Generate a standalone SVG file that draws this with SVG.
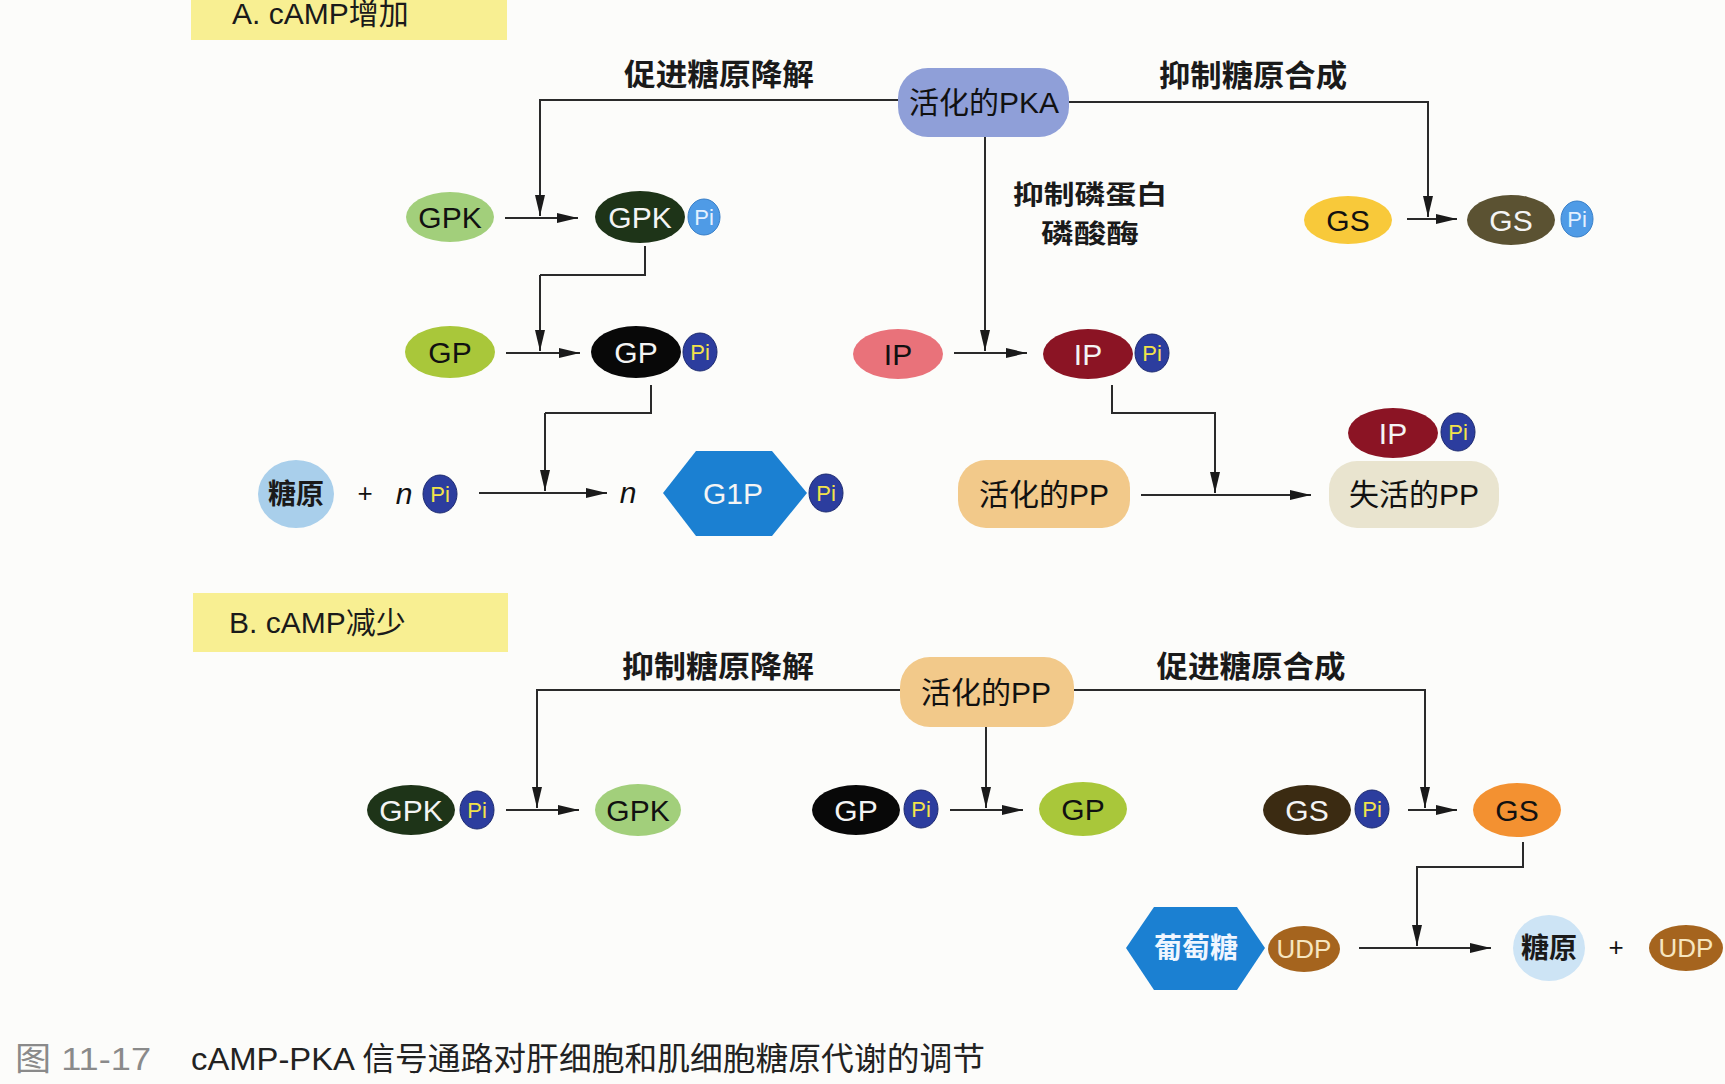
<svg xmlns="http://www.w3.org/2000/svg" width="1725" height="1084" viewBox="0 0 1725 1084">
<defs>
<style>
.lbl{font-family:"Noto Sans CJK SC","Liberation Serif",sans-serif;font-weight:bold;font-size:30px;fill:#1a1a1a;text-anchor:middle}
.nt{font-family:"Liberation Sans","Noto Sans CJK SC",sans-serif;font-size:30px;text-anchor:middle}
.dk{fill:#111}
.wt{fill:#f4f4f4}
.pit{font-family:"Liberation Sans",sans-serif;font-size:22px;text-anchor:middle}
.pid{fill:#2c3d9e;stroke:#1c2a70;stroke-width:1}
.pil{fill:#4f9be6;stroke:#3a80c8;stroke-width:1}
.pidt{fill:#f2e24a}
.pilt{fill:#e4f0ff}
.conn{stroke:#2a2a2a;stroke-width:2;fill:none}
.arr{marker-end:url(#ah)}
.sec{fill:#f8ef92}
.sect{font-family:"Liberation Sans","Noto Sans CJK SC",sans-serif;font-size:30px;fill:#1a1a1a}
</style>
<marker id="ah" markerUnits="userSpaceOnUse" markerWidth="22" markerHeight="12" refX="21" refY="6" orient="auto">
<path d="M0,1 L21,6 L0,11 z" fill="#1a1a1a"/>
</marker>
</defs>
<rect x="0" y="0" width="1725" height="1084" fill="#fcfcfa"/>

<g id="secA"><rect class="sec" x="191" y="-18" width="316" height="58"/><text class="sect" x="232" y="24">A. cAMP增加</text></g>
<g id="secB"><rect class="sec" x="193" y="593" width="315" height="59"/><text class="sect" x="229" y="633">B. cAMP减少</text></g>

<g id="connectors">
<path class="conn arr" d="M898,100 H540 V216"/>
<path class="conn arr" d="M1069,102 H1428 V217"/>
<path class="conn arr" d="M985,137 V351"/>
<path class="conn arr" d="M505,218 H578"/>
<path class="conn" d="M645,246 V275 H540"/>
<path class="conn arr" d="M540,275 V351"/>
<path class="conn arr" d="M506,353 H580"/>
<path class="conn" d="M651,385 V413 H545"/>
<path class="conn arr" d="M545,413 V491"/>
<path class="conn arr" d="M479,493 H607"/>
<path class="conn arr" d="M954,353 H1027"/>
<path class="conn arr" d="M1112,385 V413 H1215 V493"/>
<path class="conn arr" d="M1141,495 H1311"/>
<path class="conn arr" d="M1407,219 H1457"/>
<path class="conn arr" d="M900,690 H537 V808"/>
<path class="conn arr" d="M1074,690 H1425 V808"/>
<path class="conn arr" d="M986,727 V808"/>
<path class="conn arr" d="M506,810 H579"/>
<path class="conn arr" d="M950,810 H1023"/>
<path class="conn arr" d="M1408,810 H1457"/>
<path class="conn arr" d="M1523,842 V867 H1417 V946"/>
<path class="conn arr" d="M1359,948 H1491"/>
</g>

<g id="lbl-promote-deg"><text class="lbl" x="719" y="85" textLength="190" lengthAdjust="spacingAndGlyphs">促进糖原降解</text></g>
<g id="lbl-inhibit-syn"><text class="lbl" x="1253" y="86" textLength="188" lengthAdjust="spacingAndGlyphs">抑制糖原合成</text></g>
<g id="lbl-inhibit-pp"><text class="lbl" x="1090" y="204" style="font-size:26px" textLength="154" lengthAdjust="spacingAndGlyphs">抑制磷蛋白</text><text class="lbl" x="1090" y="243" style="font-size:26px" textLength="98" lengthAdjust="spacingAndGlyphs">磷酸酶</text></g>
<g id="lbl-inhibit-deg"><text class="lbl" x="718" y="677" textLength="192" lengthAdjust="spacingAndGlyphs">抑制糖原降解</text></g>
<g id="lbl-promote-syn"><text class="lbl" x="1251" y="677" textLength="189" lengthAdjust="spacingAndGlyphs">促进糖原合成</text></g>

<g id="pkaA"><rect x="898" y="68" width="171" height="69" rx="30" fill="#8f9fd8"/><text class="nt dk" x="984" y="113">活化的PKA</text></g>
<g id="gpkA1"><ellipse cx="450" cy="217" rx="44" ry="25" fill="#a2cf7b"/><text class="nt dk" x="450" y="228">GPK</text></g>
<g id="gpkA2"><ellipse cx="640" cy="217" rx="45" ry="26" fill="#1e3418"/><text class="nt wt" x="640" y="228">GPK</text><ellipse class="pil" cx="704" cy="217" rx="16" ry="18"/><text class="pit pilt" x="704" y="225">Pi</text></g>
<g id="gsA1"><ellipse cx="1348" cy="220" rx="44" ry="24" fill="#f8c93a"/><text class="nt dk" x="1348" y="231">GS</text></g>
<g id="gsA2"><ellipse cx="1511" cy="220" rx="44" ry="25" fill="#5b5232"/><text class="nt wt" x="1511" y="231">GS</text><ellipse class="pil" cx="1577" cy="219" rx="16" ry="18"/><text class="pit pilt" x="1577" y="227">Pi</text></g>
<g id="gpA1"><ellipse cx="450" cy="352" rx="45" ry="26" fill="#a9c73a"/><text class="nt dk" x="450" y="363">GP</text></g>
<g id="gpA2"><ellipse cx="636" cy="352" rx="45" ry="26" fill="#080808"/><text class="nt wt" x="636" y="363">GP</text><ellipse class="pid" cx="700" cy="352" rx="17" ry="19"/><text class="pit pidt" x="700" y="360">Pi</text></g>
<g id="ipA1"><ellipse cx="898" cy="354" rx="45" ry="25" fill="#e9727a"/><text class="nt dk" x="898" y="365">IP</text></g>
<g id="ipA2"><ellipse cx="1088" cy="354" rx="45" ry="25" fill="#8b1424"/><text class="nt wt" x="1088" y="365">IP</text><ellipse class="pid" cx="1152" cy="353" rx="17" ry="19"/><text class="pit pidt" x="1152" y="361">Pi</text></g>
<g id="glycogenA"><ellipse cx="296" cy="494" rx="38" ry="34" fill="#a9cfeb"/><text class="lbl" x="296" y="504" style="font-size:28px">糖原</text></g>
<g id="plusA"><text class="nt dk" x="365" y="502" style="font-size:26px">+</text></g>
<g id="nPiA"><text class="nt dk" x="404" y="504" style="font-style:italic">n</text><ellipse class="pid" cx="440" cy="494" rx="17" ry="19"/><text class="pit pidt" x="440" y="502">Pi</text></g>
<g id="g1p"><text class="nt dk" x="628" y="503" style="font-style:italic">n</text><polygon points="663,493 696,451 772,451 807,493 772,536 696,536" fill="#1b80d2"/><text class="nt wt" x="733" y="504">G1P</text><ellipse class="pid" cx="826" cy="493" rx="17" ry="19"/><text class="pit pidt" x="826" y="501">Pi</text></g>
<g id="ppA"><rect x="958" y="460" width="172" height="68" rx="28" fill="#f2c98a"/><text class="nt dk" x="1044" y="505">活化的PP</text></g>
<g id="ppInactive"><rect x="1329" y="461" width="170" height="67" rx="28" fill="#e9e4cf"/><text class="nt dk" x="1414" y="505">失活的PP</text><ellipse cx="1393" cy="433" rx="45" ry="25" fill="#8b1424"/><text class="nt wt" x="1393" y="444">IP</text><ellipse class="pid" cx="1458" cy="432" rx="17" ry="19"/><text class="pit pidt" x="1458" y="440">Pi</text></g>

<g id="ppB"><rect x="900" y="657" width="174" height="70" rx="30" fill="#f2c98a"/><text class="nt dk" x="986" y="703">活化的PP</text></g>
<g id="gpkB1"><ellipse cx="411" cy="810" rx="44" ry="25" fill="#1e3418"/><text class="nt wt" x="411" y="821">GPK</text><ellipse class="pid" cx="477" cy="810" rx="17" ry="19"/><text class="pit pidt" x="477" y="818">Pi</text></g>
<g id="gpkB2"><ellipse cx="638" cy="810" rx="43" ry="26" fill="#a2cf7b"/><text class="nt dk" x="638" y="821">GPK</text></g>
<g id="gpB1"><ellipse cx="856" cy="810" rx="44" ry="25" fill="#080808"/><text class="nt wt" x="856" y="821">GP</text><ellipse class="pid" cx="921" cy="809" rx="17" ry="19"/><text class="pit pidt" x="921" y="817">Pi</text></g>
<g id="gpB2"><ellipse cx="1083" cy="809" rx="44" ry="27" fill="#a9c73a"/><text class="nt dk" x="1083" y="820">GP</text></g>
<g id="gsB1"><ellipse cx="1307" cy="810" rx="44" ry="25" fill="#3b2b12"/><text class="nt wt" x="1307" y="821">GS</text><ellipse class="pid" cx="1372" cy="809" rx="17" ry="19"/><text class="pit pidt" x="1372" y="817">Pi</text></g>
<g id="gsB2"><ellipse cx="1517" cy="810" rx="44" ry="27" fill="#f39131"/><text class="nt dk" x="1517" y="821">GS</text></g>
<g id="glucoseUDP"><polygon points="1126,948 1154,907 1237,907 1265,948 1237,990 1154,990" fill="#1b80d2"/><text class="lbl" x="1196" y="958" style="font-size:28px;fill:#f0f6ff">葡萄糖</text><ellipse cx="1304" cy="949" rx="36" ry="23" fill="#a5641e"/><text class="nt" x="1304" y="958" style="font-size:26px;fill:#f6e6c0">UDP</text></g>
<g id="glycogenB"><ellipse cx="1549" cy="948" rx="36" ry="33" fill="#cde4f5"/><text class="lbl" x="1549" y="958" style="font-size:28px">糖原</text></g>
<g id="plusB"><text class="nt dk" x="1616" y="956" style="font-size:26px">+</text></g>
<g id="udpB"><ellipse cx="1686" cy="948" rx="37" ry="23" fill="#a5641e"/><text class="nt" x="1686" y="957" style="font-size:26px;fill:#f6e6c0">UDP</text></g>

<g id="caption">
<text x="15" y="1070" style="font-family:'Liberation Sans','Noto Sans CJK SC',sans-serif;font-size:32px;fill:#8a8a8a" textLength="136" lengthAdjust="spacingAndGlyphs">图 11-17</text>
<text x="191" y="1070" style="font-family:'Liberation Sans','Noto Sans CJK SC',sans-serif;font-size:32px;fill:#222" textLength="794" lengthAdjust="spacingAndGlyphs">cAMP-PKA 信号通路对肝细胞和肌细胞糖原代谢的调节</text>
</g>
</svg>
